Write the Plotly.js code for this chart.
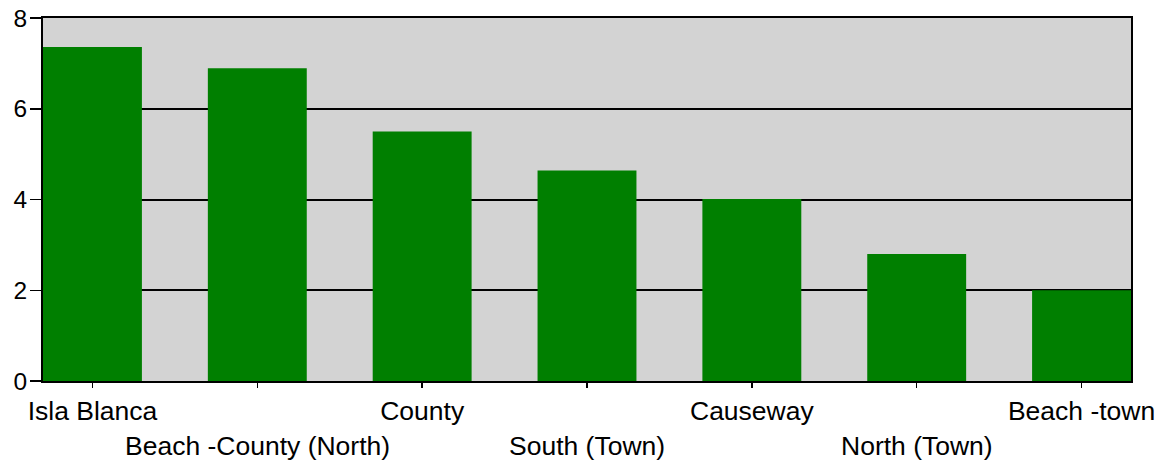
<!DOCTYPE html>
<html>
<head>
<meta charset="utf-8">
<script src="https://cdn.plot.ly/plotly-3.0.1.min.js"></script>
<style>html,body{margin:0;padding:0;background:#fff;}#chart{width:1162px;height:464px;}</style>
</head>
<body>
<div id="chart"></div>
<script>
var categories = ["Isla Blanca", "Beach -County (North)", "County", "South (Town)", "Causeway", "North (Town)", "Beach -town"];
var values = [7.36, 6.89, 5.50, 4.64, 4.01, 2.80, 2.00];
var yTicks = [0, 2, 4, 6, 8];

var upperLabels = categories.map(function(c, i){ return i % 2 === 0 ? c : ""; });
var annotations = [];
categories.forEach(function(c, i){
  if (i % 2 === 1) {
    annotations.push({
      x: c, xref: "x", y: 0, yref: "paper",
      yanchor: "top", xanchor: "center", yshift: -48,
      text: c, showarrow: false,
      font: {family: "Liberation Sans, Arial, sans-serif", size: 26.5, color: "#000"}
    });
  }
});

var trace = {
  type: "bar",
  x: categories,
  y: values,
  width: 0.6,
  marker: {color: "#007f00", line: {width: 0}},
  hoverinfo: "x+y"
};

var layout = {
  width: 1162, height: 464,
  margin: {l: 43, r: 31, t: 18, b: 83},
  paper_bgcolor: "#ffffff",
  plot_bgcolor: "#d3d3d3",
  showlegend: false,
  font: {family: "Liberation Sans, Arial, sans-serif", size: 24, color: "#000"},
  xaxis: {
    type: "category",
    range: [-0.3, 6.3],
    tickmode: "array",
    tickvals: categories,
    ticktext: upperLabels,
    ticks: "outside", ticklen: 5, tickwidth: 1.5, tickcolor: "#000",
    showline: true, linecolor: "#000", linewidth: 2, mirror: true,
    showgrid: false, zeroline: false,
    tickfont: {size: 26.5, color: "#000"}
  },
  yaxis: {
    range: [0, 8],
    tickmode: "array",
    tickvals: yTicks,
    ticktext: yTicks.map(String),
    ticks: "outside", ticklen: 11, tickwidth: 1.5, tickcolor: "#000",
    ticklabelstandoff: -2,
    showline: true, linecolor: "#000", linewidth: 2, mirror: true,
    showgrid: true, gridcolor: "#000", gridwidth: 2,
    zeroline: false,
    tickfont: {size: 24.5, color: "#000"}
  },
  annotations: annotations
};

Plotly.newPlot("chart", [trace], layout, {displayModeBar: false, staticPlot: true});
</script>
</body>
</html>
